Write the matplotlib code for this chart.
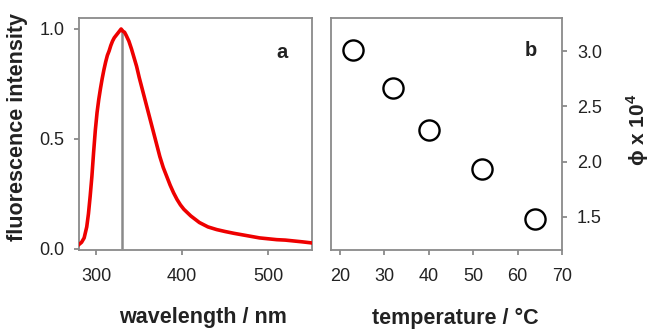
import numpy as np
import matplotlib
matplotlib.use("Agg")
import matplotlib.pyplot as plt

plt.rcParams['font.family'] = ['Liberation Sans', 'DejaVu Sans']
plt.rcParams['mathtext.fontset'] = 'custom'
plt.rcParams['mathtext.rm'] = 'Liberation Sans'
plt.rcParams['mathtext.bf'] = 'Liberation Sans:bold'

# panel a: fluorescence spectrum
wavelength = [280, 283, 286, 289, 291, 293, 295, 297, 299, 301, 303, 305, 307, 309,
              311, 313, 315, 317, 319, 321, 323, 325, 327, 329, 331, 333, 335, 338,
              341, 344, 347, 350, 354, 358, 362, 366, 370, 374, 378, 382, 386, 390,
              394, 398, 402, 406, 410, 415, 420, 425, 430, 440, 450, 460, 470, 480,
              490, 500, 510, 520, 530, 540, 551]
intensity = [0.02, 0.03, 0.05, 0.10, 0.16, 0.24, 0.33, 0.44, 0.54, 0.62, 0.68, 0.73,
             0.775, 0.815, 0.85, 0.88, 0.90, 0.925, 0.945, 0.96, 0.97, 0.98, 0.99, 1.00,
             0.99, 0.985, 0.97, 0.945, 0.91, 0.87, 0.83, 0.78, 0.72, 0.66, 0.60, 0.54,
             0.48, 0.42, 0.37, 0.33, 0.29, 0.255, 0.225, 0.20, 0.18, 0.165, 0.15,
             0.135, 0.12, 0.11, 0.10, 0.088, 0.079, 0.071, 0.064, 0.057, 0.050, 0.046,
             0.042, 0.040, 0.036, 0.032, 0.027]
peak_nm = 330

# panel b: quantum yield vs temperature
temperature = [23, 32, 40, 52, 64]
phi = [3.01, 2.67, 2.29, 1.93, 1.48]

grey = '#8a8a8a'
txt = '#222222'

fig = plt.figure(figsize=(6.53, 3.29), dpi=100)
ax1 = fig.add_axes([79/653, 1-250/329, (312-79)/653, (250-18)/329])
ax2 = fig.add_axes([331/653, 1-250/329, (562-331)/653, (250-18)/329])

ax1.plot(wavelength, intensity, color='#ee0000', lw=2.6, zorder=3)
ax1.vlines(peak_nm, 0, 1.0, color=grey, lw=1.8, zorder=2)
ax1.set_xlim(280, 551)
ax1.set_ylim(-0.005, 1.05)
ax1.set_xticks([300, 400, 500])
ax1.set_yticks([0.0, 0.5, 1.0])
ax1.set_yticklabels(['0.0', '0.5', '1.0'])
ax1.text(0.871, 0.853, 'a', transform=ax1.transAxes, fontsize=14.5, fontweight='bold',
         ha='center', va='center', color=txt)

ax2.plot(temperature, phi, 'o', ms=14.5, mfc='white', mec='black', mew=1.7,
         linestyle='none')
ax2.set_xlim(18, 70)
ax2.set_ylim(1.2, 3.3)
ax2.set_xticks([20, 30, 40, 50, 60, 70])
ax2.set_yticks([1.5, 2.0, 2.5, 3.0])
ax2.yaxis.tick_right()
ax2.text(0.866, 0.858, 'b', transform=ax2.transAxes, fontsize=14.5, fontweight='bold',
         ha='center', va='center', color=txt)

for ax in (ax1, ax2):
    for s in ax.spines.values():
        s.set_color(grey)
        s.set_linewidth(1.3)
    ax.tick_params(direction='out', length=3.7, width=1.3, color=grey,
                   labelsize=13, labelcolor=txt)
    ax.tick_params(axis='x', pad=9)
    ax.tick_params(axis='y', pad=7)

fig.text(18/653, 1-127/329, 'fluorescence intensity', rotation=90, ha='center',
         va='center', fontsize=15.5, fontweight='bold', color=txt)
fig.text(203/653, 1-318/329, 'wavelength / nm', ha='center', va='center',
         fontsize=15.5, fontweight='bold', color=txt)
fig.text(455/653, 1-318/329, 'temperature / °C', ha='center', va='center',
         fontsize=15.5, fontweight='bold', color=txt)
fig.text(638/653, 1-130/329, r'ϕ x 10$^{\mathbf{4}}$', rotation=90, ha='center',
         va='center', fontsize=15, fontweight='bold', color=txt)

fig.savefig('out.png', dpi=100)
